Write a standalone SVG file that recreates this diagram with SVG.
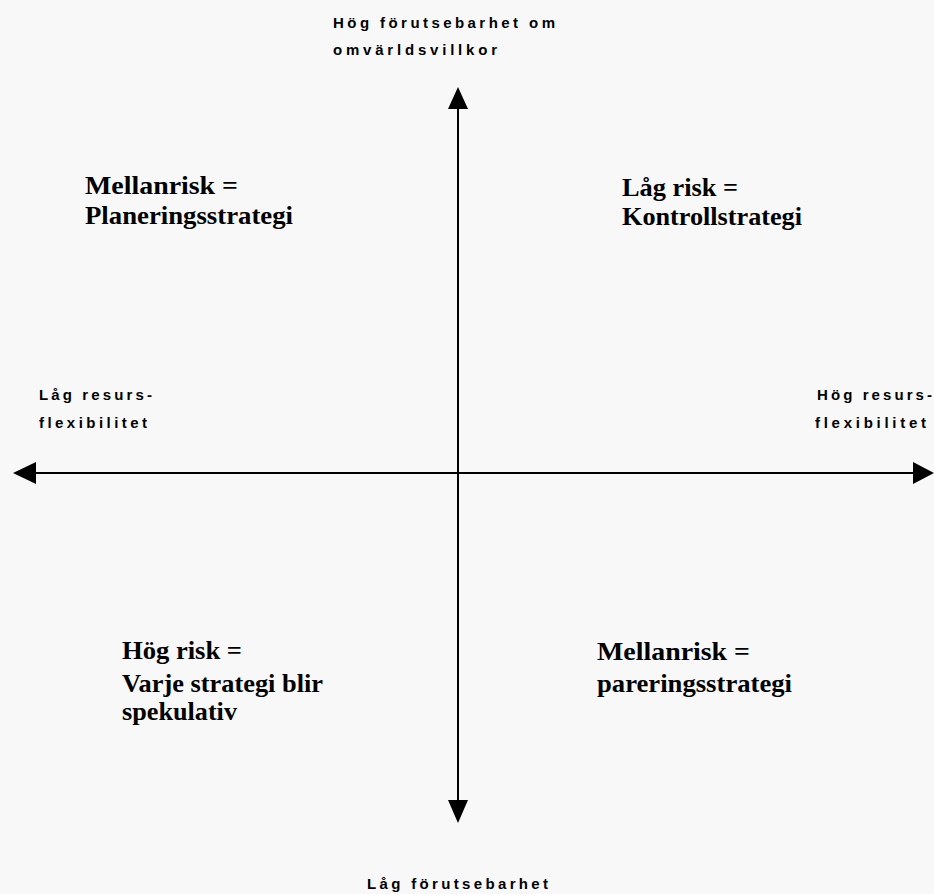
<svg xmlns="http://www.w3.org/2000/svg" width="934" height="894" viewBox="0 0 934 894">
<style>
.small{font-family:"Liberation Sans",Arial,sans-serif;font-size:15px;font-weight:bold;fill:#000}
.big{font-family:"Liberation Serif","Times New Roman",serif;font-size:25px;font-weight:bold;fill:#000}
.axis{stroke:#000;stroke-width:2;fill:none}
.head{fill:#000}
</style>
<rect x="0" y="0" width="934" height="894" fill="#f8f8f8"/>
<g id="connectors">
<line class="axis" x1="458" y1="100" x2="458" y2="810"/>
<line class="axis" x1="28" y1="473" x2="922" y2="473"/>
<polygon class="head" points="458,87 468,109 448,109"/>
<polygon class="head" points="458,823 468,800 448,800"/>
<polygon class="head" points="13,473 36,462 36,484"/>
<polygon class="head" points="934,473 913,462 913,484"/>
</g>
<g id="label-top">
<text class="small" x="333" y="28" textLength="222" lengthAdjust="spacing">Hög förutsebarhet om</text>
<text class="small" x="333" y="55" textLength="164" lengthAdjust="spacing">omvärldsvillkor</text>
</g>
<g id="label-left">
<text class="small" x="39" y="400" textLength="113" lengthAdjust="spacing">Låg resurs-</text>
<text class="small" x="39" y="428" textLength="108" lengthAdjust="spacing">flexibilitet</text>
</g>
<g id="label-right">
<text class="small" x="817" y="400" textLength="115" lengthAdjust="spacing">Hög resurs-</text>
<text class="small" x="815" y="428" textLength="111" lengthAdjust="spacing">flexibilitet</text>
</g>
<g id="label-bottom">
<text class="small" x="367" y="889" textLength="181" lengthAdjust="spacing">Låg förutsebarhet</text>
</g>
<g id="q-top-left">
<text class="big" x="85" y="194" textLength="153" lengthAdjust="spacingAndGlyphs">Mellanrisk  =</text>
<text class="big" x="85" y="224" textLength="208" lengthAdjust="spacingAndGlyphs">Planeringsstrategi</text>
</g>
<g id="q-top-right">
<text class="big" x="622" y="196" textLength="116" lengthAdjust="spacingAndGlyphs">Låg risk =</text>
<text class="big" x="622" y="225" textLength="180" lengthAdjust="spacingAndGlyphs">Kontrollstrategi</text>
</g>
<g id="q-bottom-left">
<text class="big" x="122" y="659" textLength="120" lengthAdjust="spacingAndGlyphs">Hög risk =</text>
<text class="big" x="122" y="692" textLength="201" lengthAdjust="spacingAndGlyphs">Varje strategi blir</text>
<text class="big" x="122" y="720" textLength="115" lengthAdjust="spacingAndGlyphs">spekulativ</text>
</g>
<g id="q-bottom-right">
<text class="big" x="597" y="660" textLength="153" lengthAdjust="spacingAndGlyphs">Mellanrisk  =</text>
<text class="big" x="597" y="692" textLength="195" lengthAdjust="spacingAndGlyphs">pareringsstrategi</text>
</g>
</svg>
